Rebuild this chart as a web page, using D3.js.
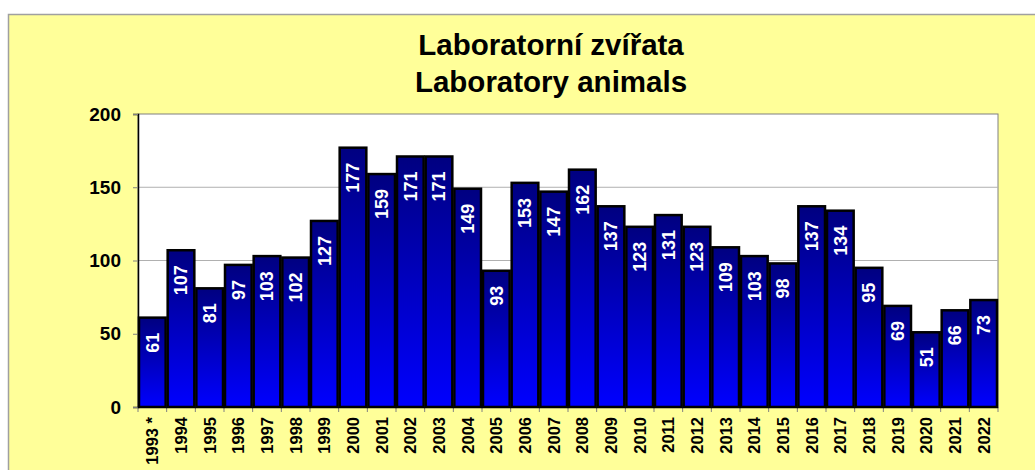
<!DOCTYPE html>
<html>
<head>
<meta charset="utf-8">
<script src="https://cdn.jsdelivr.net/npm/d3@7"></script>
<style>
  body { margin: 0; background: #fff; }
  svg { display: block; font-family: Arial, "Liberation Sans", sans-serif; }
</style>
</head>
<body>
<div id="chart"></div>
<script>
// Values
const years = ["1993 *", "1994", "1995", "1996", "1997", "1998", "1999", "2000", "2001", "2002",
  "2003", "2004", "2005", "2006", "2007", "2008", "2009", "2010", "2011", "2012",
  "2013", "2014", "2015", "2016", "2017", "2018", "2019", "2020", "2021", "2022"];
const counts = [61, 107, 81, 97, 103, 102, 127, 177, 159, 171,
  171, 149, 93, 153, 147, 162, 137, 123, 131, 123,
  109, 103, 98, 137, 134, 95, 69, 51, 66, 73];
const yTicks = [0, 50, 100, 150, 200];
const titleLines = ["Laboratorní zvířata", "Laboratory animals"];

const W = 1035, H = 470;
const plot = { left: 138, right: 998, top: 114, bottom: 407 };

const svg = d3.select("#chart").append("svg")
  .attr("width", W)
  .attr("height", H);

// gradient per bar: navy on top, bright blue at the bottom
const grad = svg.append("defs").append("linearGradient")
  .attr("id", "barGrad")
  .attr("x1", 0).attr("y1", 0).attr("x2", 0).attr("y2", 1);
grad.append("stop").attr("offset", "0%").attr("stop-color", "#000080");
grad.append("stop").attr("offset", "100%").attr("stop-color", "#0000ff");

// chart background + frame
svg.append("rect")
  .attr("x", 8.5).attr("y", 14.5)
  .attr("width", W + 20).attr("height", H + 20)
  .attr("fill", "#ffff99")
  .attr("stroke", "#a0a0a0")
  .attr("stroke-width", 1.5);

// plot area
svg.append("rect")
  .attr("x", plot.left).attr("y", plot.top)
  .attr("width", plot.right - plot.left).attr("height", plot.bottom - plot.top)
  .attr("fill", "#fff")
  .attr("stroke", "#808080")
  .attr("stroke-width", 1);

const x = d3.scaleBand()
  .domain(years)
  .range([plot.left, plot.right])
  .paddingInner(0.07)
  .paddingOuter(0.035);

const y = d3.scaleLinear()
  .domain([0, 200])
  .range([plot.bottom, plot.top]);

// grid lines
svg.append("g")
  .selectAll("line")
  .data(yTicks.filter((t) => t > 0 && t < 200))
  .join("line")
  .attr("x1", plot.left).attr("x2", plot.right)
  .attr("y1", (d) => y(d)).attr("y2", (d) => y(d))
  .attr("stroke", "#b0b0b0")
  .attr("stroke-width", 1);

// y axis
const yAxis = svg.append("g")
  .attr("transform", `translate(${plot.left},0)`)
  .call(d3.axisLeft(y).tickValues(yTicks).tickSize(5).tickPadding(12));
yAxis.select(".domain").attr("stroke", "#000").attr("stroke-width", 1.5);
yAxis.selectAll(".tick line").attr("stroke", "#808080");
yAxis.selectAll(".tick text")
  .attr("font-size", "19px")
  .attr("font-weight", "bold")
  .attr("font-family", "Arial, 'Liberation Sans', sans-serif")
  .attr("fill", "#000");

// x axis: ticks at band boundaries
const xAxis = svg.append("g")
  .attr("transform", `translate(0,${plot.bottom})`);
const edges = d3.range(years.length + 1).map((i) => plot.left + i * (plot.right - plot.left) / years.length);
xAxis.selectAll("line")
  .data(edges)
  .join("line")
  .attr("x1", (d) => d).attr("x2", (d) => d)
  .attr("y1", 0).attr("y2", 5)
  .attr("stroke", "#808080");
xAxis.selectAll("text")
  .data(years)
  .join("text")
  .attr("transform", (d) => `translate(${x(d) + x.bandwidth() / 2},10) rotate(-90)`)
  .attr("text-anchor", "end")
  .attr("dy", "0.36em")
  .attr("font-size", "16.5px")
  .attr("font-weight", "bold")
  .attr("fill", "#000")
  .text((d) => d);

// bars
svg.append("g")
  .selectAll("rect")
  .data(counts)
  .join("rect")
  .attr("x", (d, i) => x(years[i]))
  .attr("y", (d) => y(d))
  .attr("width", x.bandwidth())
  .attr("height", (d) => plot.bottom - y(d))
  .attr("fill", "url(#barGrad)")
  .attr("stroke", "#000")
  .attr("stroke-width", 2.5);

// value labels inside top of bars
svg.append("g")
  .selectAll("text")
  .data(counts)
  .join("text")
  .attr("transform", (d, i) => `translate(${x(years[i]) + x.bandwidth() / 2},${y(d) + 15}) rotate(-90)`)
  .attr("text-anchor", "end")
  .attr("dy", "0.36em")
  .attr("font-size", "18px")
  .attr("font-weight", "bold")
  .attr("fill", "#fff")
  .text((d) => d);

// title
svg.append("text")
  .attr("x", 551)
  .attr("text-anchor", "middle")
  .attr("font-size", "29.5px")
  .attr("font-weight", "bold")
  .attr("fill", "#000")
  .selectAll("tspan")
  .data(titleLines)
  .join("tspan")
  .attr("x", 551)
  .attr("y", (d, i) => 55 + i * 36.5)
  .text((d) => d);
</script>
</body>
</html>
